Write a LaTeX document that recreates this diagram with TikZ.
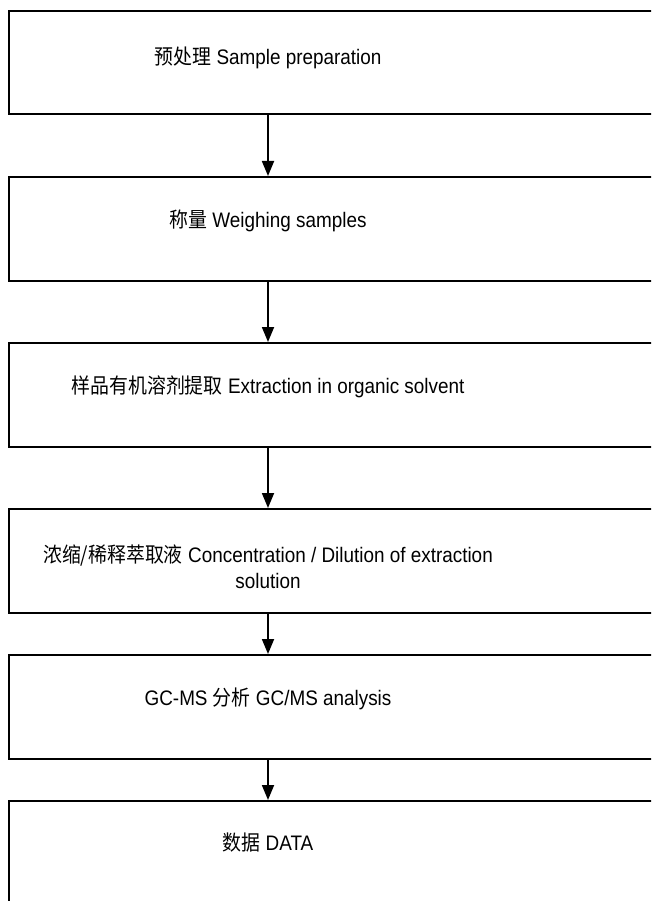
\documentclass[tikz,border=0pt]{standalone}
\usepackage{fontspec}
\setmainfont[FakeStretch=0.9]{Liberation Sans}
\newfontfamily\cjk[FakeStretch=0.9]{Noto Sans CJK SC}
\usetikzlibrary{arrows.meta}
\begin{document}
\begin{tikzpicture}[x=1pt,y=-1pt,
  stepbox/.style={draw, line width=2pt, anchor=north west, minimum width=680pt, minimum height=#1, inner sep=0pt},
  label/.style={anchor=base, inner sep=0pt, font=\fontsize{21}{25}\selectfont},
  arr/.style={line width=1.8pt, -{Triangle[length=15pt,width=12pt]}}]
\useasboundingbox (0,0) rectangle (651,901);
\clip (0,0) rectangle (651,901);
\fill[white] (0,0) rectangle (651,901);
\node[stepbox=103pt] (b1) at (8,10) {};
\node[stepbox=104pt] (b2) at (8,176) {};
\node[stepbox=104pt] (b3) at (8,342) {};
\node[stepbox=104pt] (b4) at (8,508) {};
\node[stepbox=104pt] (b5) at (8,654) {};
\node[stepbox=120pt] (b6) at (8,800) {};
\node[label] (t1) at (268,65) {{\cjk 预处理} Sample preparation};
\node[label] (t2) at (268,227) {{\cjk 称量} Weighing samples};
\node[label] (t3) at (268,393) {{\cjk 样品有机溶剂提取} Extraction in organic solvent};
\node[label] (t4) at (268,562) {{\cjk 浓缩/稀释萃取液} Concentration / Dilution of extraction};
\node[label] (t4b) at (268,588) {solution};
\node[label] (t5) at (268,705) {GC-MS {\cjk 分析} GC/MS analysis};
\node[label] (t6) at (268,850) {{\cjk 数据} DATA};
\draw[arr] (t1 |- b1.south) -- (t1 |- b2.north);
\draw[arr] (t1 |- b2.south) -- (t1 |- b3.north);
\draw[arr] (t1 |- b3.south) -- (t1 |- b4.north);
\draw[arr] (t1 |- b4.south) -- (t1 |- b5.north);
\draw[arr] (t1 |- b5.south) -- (t1 |- b6.north);
\end{tikzpicture}
\end{document}
